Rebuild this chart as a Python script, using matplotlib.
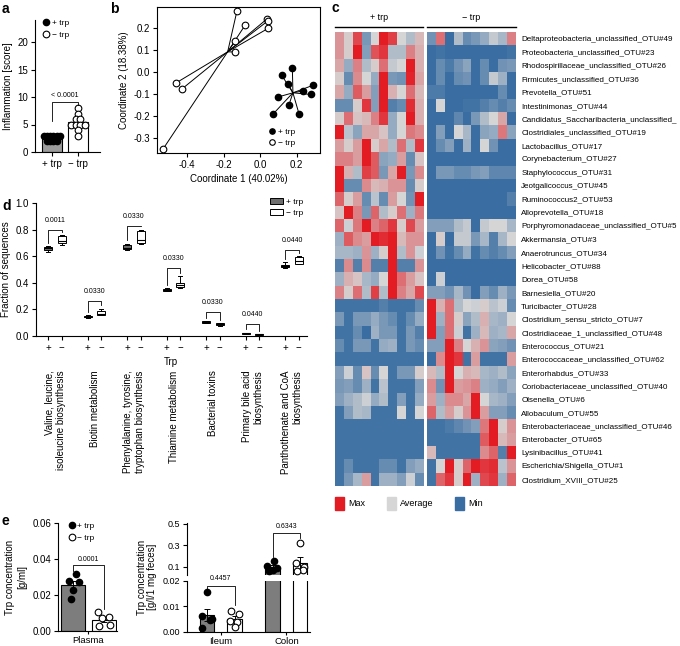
import numpy as np
import matplotlib
matplotlib.use('Agg')
import matplotlib.pyplot as plt
import matplotlib.transforms as mtransforms
from matplotlib.colors import LinearSegmentedColormap, TwoSlopeNorm
from matplotlib.patches import Rectangle, Patch
from matplotlib.lines import Line2D

plt.rcParams['font.family'] = ['Liberation Sans', 'DejaVu Sans']
plt.rcParams['font.size'] = 7
plt.rcParams['axes.linewidth'] = 0.8
plt.rcParams['xtick.major.width'] = 0.8
plt.rcParams['ytick.major.width'] = 0.8
plt.rcParams['xtick.major.size'] = 3
plt.rcParams['ytick.major.size'] = 3
plt.rcParams['xtick.major.pad'] = 2
plt.rcParams['ytick.major.pad'] = 2

# ---------------- data ----------------
# a: inflammation score
a_groups = ['+ trp', '\u2212 trp']
a_plus = [3, 3, 3, 3, 3, 3, 2, 2, 2, 2]
a_minus = [8, 7, 6, 6, 5, 5, 5, 5, 4, 3]

# b: PCoA coordinates
b_plus_x = [0.118, 0.176, 0.154, 0.290, 0.233, 0.276, 0.100, 0.158, 0.073, 0.213]
b_plus_y = [-0.014, 0.017, -0.055, -0.059, -0.085, -0.101, -0.112, -0.147, -0.188, -0.191]
b_minus_x = [-0.127, -0.082, 0.040, 0.045, 0.045, -0.136, -0.140, -0.460, -0.427, -0.532]
b_minus_y = [0.277, 0.214, 0.244, 0.235, 0.200, 0.141, 0.092, -0.049, -0.076, -0.351]

# c: heatmap (row-scaled abundance, -1 = min, 0 = average, 1 = max)
hm_rows = ['Deltaproteobacteria_unclassified_OTU#49', 'Proteobacteria_unclassified_OTU#23',
           'Rhodospirillaceae_unclassified_OTU#26', 'Firmicutes_unclassified_OTU#36',
           'Prevotella_OTU#51', 'Intestinimonas_OTU#44',
           'Candidatus_Saccharibacteria_unclassified_', 'Clostridiales_unclassified_OTU#19',
           'Lactobacillus_OTU#17', 'Corynebacterium_OTU#27', 'Staphylococcus_OTU#31',
           'Jeotgalicoccus_OTU#45', 'Ruminococcus2_OTU#53', 'Alloprevotella_OTU#18',
           'Porphyromonadaceae_unclassified_OTU#5', 'Akkermansia_OTU#3', 'Anaerotruncus_OTU#34',
           'Helicobacter_OTU#88', 'Dorea_OTU#58', 'Barnesiella_OTU#20', 'Turicibacter_OTU#28',
           'Clostridium_sensu_stricto_OTU#7', 'Clostridiaceae_1_unclassified_OTU#48',
           'Enterococcus_OTU#21', 'Enterococcaceae_unclassified_OTU#62', 'Enterorhabdus_OTU#33',
           'Coriobacteriaceae_unclassified_OTU#40', 'Olsenella_OTU#6', 'Allobaculum_OTU#55',
           'Enterobacteriaceae_unclassified_OTU#46', 'Enterobacter_OTU#65', 'Lysinibacillus_OTU#41',
           'Escherichia/Shigella_OTU#1', 'Clostridium_XVIII_OTU#25']

hm_plus = [
    [0.35, 0.05, 0.75, -0.5, 0.0, 1.0, 0.8, 0.0, -0.2, 0.15],
    [0.35, 0.05, 1.0, -0.45, 0.7, 0.85, -0.2, -0.2, 0.45, 0.2],
    [0.25, -0.35, 0.45, -0.2, 0.05, 0.55, -0.1, 0.0, 1.0, 0.2],
    [0.05, -0.6, 0.4, 0.0, -0.35, 1.0, -0.5, -0.55, 0.95, 0.25],
    [0.25, -0.35, 0.65, 0.3, -0.45, 1.0, 0.2, 0.0, 0.55, 0.15],
    [-0.6, -0.6, 0.05, 0.85, -0.45, 1.0, -0.7, -0.6, 0.9, 0.2],
    [0.05, 0.55, 0.1, 0.15, 0.45, 0.85, -0.35, 0.0, 1.0, 0.2],
    [1.0, -0.15, -0.4, 0.25, 0.25, 0.1, -0.35, 0.0, 0.5, 0.4],
    [0.3, 0.05, 0.3, 1.0, 0.05, 0.25, -0.2, 0.55, -0.2, 0.85],
    [0.45, 0.45, 0.3, 1.0, 0.65, -0.4, -0.35, 0.3, -0.6, 0.1],
    [1.0, 0.2, -0.2, 0.8, 0.65, -0.5, 0.25, 1.0, -0.5, 0.4],
    [1.0, -0.6, -0.6, 0.4, 0.15, 0.2, 0.35, 0.35, -0.6, 0.05],
    [0.6, 0.05, 0.3, -0.6, -0.15, -0.6, 0.3, 0.0, -0.55, 1.0],
    [0.1, 1.0, 0.45, -0.5, 0.6, -0.2, 0.05, 0.55, -0.3, 0.5],
    [0.6, -0.05, 0.5, 1.0, 0.45, 0.6, 0.85, 0.05, 0.75, 0.3],
    [-0.3, 0.65, 0.4, 0.3, 1.0, 0.9, 1.0, 0.15, 0.35, 0.35],
    [-0.25, -0.25, -0.3, 0.35, -0.3, 0.05, 1.0, -0.2, 0.35, -0.05],
    [-0.7, 0.4, -0.7, 0.4, -0.7, -0.7, 1.0, -0.7, -0.7, 0.35],
    [-0.3, 0.2, 0.1, -0.25, -0.35, 0.0, 1.0, 0.55, 0.3, 0.1],
    [0.45, 0.05, 0.55, -0.2, 0.8, -0.2, 1.0, 0.45, 0.25, 0.75],
    [-0.8, -0.8, -0.8, -0.8, -0.8, -0.7, -0.8, -0.8, -0.8, -0.6],
    [-0.5, -0.8, -0.5, -0.5, -0.35, -0.5, -0.6, -0.8, -0.6, -0.35],
    [-0.8, -0.8, -0.6, -0.85, -0.3, -0.5, -0.5, -0.8, -0.5, -0.7],
    [-0.6, -0.8, -0.5, -0.5, -0.8, -0.35, -0.3, -0.8, -0.5, -0.6],
    [-0.8, -0.8, -0.8, -0.8, -0.8, -0.8, -0.8, -0.8, -0.8, -0.8],
    [-0.45, -0.05, -0.6, 0.1, -0.6, 0.0, -0.8, -0.5, -0.5, 0.05],
    [-0.5, -0.45, -0.6, -0.3, -0.8, -0.15, -0.8, -0.8, -0.8, -0.45],
    [-0.45, -0.3, -0.2, -0.05, -0.35, -0.2, -0.8, -0.45, -0.8, -0.35],
    [-0.8, -0.45, -0.2, -0.25, -0.8, -0.8, -0.8, 0.0, -0.8, 0.0],
    [-0.8, -0.8, -0.8, -0.8, -0.8, -0.8, -0.8, -0.8, -0.8, -0.8],
    [-0.8, -0.8, -0.8, -0.8, -0.8, -0.8, -0.8, -0.8, -0.8, -0.8],
    [-0.8, -0.8, -0.8, -0.8, -0.8, -0.8, -0.8, -0.8, -0.8, -0.8],
    [-0.8, -0.6, -0.8, -0.8, -0.8, -0.6, -0.6, -0.8, -0.45, -0.35],
    [-0.8, -0.5, -0.25, 0.3, -0.8, -0.3, -0.3, -0.45, -0.05, -0.6],
]
hm_minus = [
    [-0.55, 0.55, -0.9, -0.2, -0.6, -0.5, -0.35, -0.1, -0.25, 0.45],
    [-0.85, -0.8, -0.9, -0.9, -0.85, -0.85, -0.85, -0.85, -0.85, -0.8],
    [-0.85, -0.6, -0.75, -0.55, -0.4, -0.9, -0.6, -0.85, -0.55, -0.5],
    [-0.85, -0.6, -0.85, -0.6, -0.55, -0.85, -0.6, -0.1, -0.3, -0.85],
    [-0.75, -0.75, -0.85, -0.85, -0.85, -0.85, -0.85, -0.85, -0.6, -0.85],
    [-0.85, 0.0, -0.85, -0.85, -0.8, -0.8, -0.7, -0.6, -0.7, -0.6],
    [-0.9, -0.9, -0.9, -0.65, -0.9, -0.5, -0.2, 0.0, 0.25, -0.85],
    [-0.85, -0.45, -0.85, 0.0, -0.25, -0.85, -0.4, -0.35, 0.5, -0.4],
    [-0.85, -0.6, -0.45, -0.85, -0.3, -0.85, 0.0, -0.55, -0.85, -0.85],
    [-0.85, -0.85, -0.85, -0.85, -0.85, -0.85, -0.85, -0.85, -0.85, -0.85],
    [-0.85, -0.5, -0.5, -0.6, -0.6, -0.5, -0.45, -0.65, -0.65, -0.65],
    [-0.85, -0.85, -0.85, -0.85, -0.85, -0.85, -0.85, -0.85, -0.85, -0.85],
    [-0.85, -0.85, -0.85, -0.85, -0.85, -0.85, -0.85, -0.85, -0.85, -0.7],
    [-0.85, -0.85, -0.85, -0.85, -0.85, -0.85, -0.85, -0.85, -0.85, -0.85],
    [-0.45, -0.45, -0.45, -0.2, -0.1, -0.85, -0.1, 0.0, 0.0, -0.25],
    [-0.85, 0.05, -0.85, -0.1, -0.1, -0.5, -0.25, -0.7, -0.25, 0.0],
    [-0.85, -0.55, -0.8, -0.6, -0.35, -0.8, -0.6, -0.7, -0.6, -0.45],
    [-0.85, -0.85, -0.85, -0.85, -0.85, -0.85, -0.85, -0.85, -0.85, -0.85],
    [-0.85, -0.05, -0.85, -0.85, -0.85, -0.85, -0.85, -0.85, -0.85, -0.85],
    [-0.45, -0.45, -0.55, -0.25, -0.55, -0.85, -0.45, -0.6, -0.3, -0.5],
    [1.0, 0.2, 0.55, -0.2, 0.0, -0.05, 0.05, -0.15, -0.05, -0.6],
    [1.0, -0.3, 0.55, 0.05, -0.4, -0.2, 0.2, -0.25, -0.3, 0.0],
    [1.0, -0.45, 0.55, -0.05, -0.8, -0.3, 0.15, -0.3, -0.25, 0.25],
    [-0.45, -0.45, 1.0, 0.45, 0.0, 0.2, 0.35, -0.4, -0.45, -0.55],
    [-0.85, 0.4, 1.0, 0.85, -0.8, 0.3, -0.8, -0.8, -0.8, 0.3],
    [0.15, -0.2, 1.0, 0.0, 0.2, 0.15, -0.25, -0.3, -0.2, -0.4],
    [0.4, -0.55, 1.0, 0.3, 0.35, 0.45, -0.3, -0.35, -0.45, -0.3],
    [0.3, -0.3, 0.4, 0.4, 0.25, 1.0, 0.0, -0.25, -0.3, -0.45],
    [0.6, -0.2, 0.3, 0.05, 0.35, 1.0, 0.3, -0.45, -0.45, -0.6],
    [-0.8, -0.8, -0.75, -0.65, -0.55, -0.45, 0.5, 1.0, 0.05, 0.35],
    [-0.8, -0.8, -0.8, -0.8, -0.8, -0.8, 0.65, 1.0, 0.15, 0.3],
    [0.15, -0.8, -0.8, -0.8, -0.8, -0.8, 0.4, 0.6, -0.7, 1.0],
    [-0.8, 0.0, 1.0, 0.05, 0.6, 1.0, 0.85, 0.9, -0.15, 0.35],
    [-0.8, 0.6, 0.85, 0.05, 1.0, -0.3, 0.75, 0.85, -0.3, 0.6],
]

# d: predicted pathways, box statistics
d_cats = ['Valine, leucine,\nisoleucine biosynthesis', 'Biotin metabolism',
          'Phenylalanine, tyrosine,\ntryptophan biosynthesis', 'Thiamine metabolism',
          'Bacterial toxins', 'Primary bile acid\nbiosynthesis',
          'Panthothenate and CoA\nbiosynthesis']
d_plus_med = [0.660, 0.145, 0.665, 0.345, 0.105, 0.020, 0.527]
d_plus_q1 = [0.650, 0.140, 0.655, 0.340, 0.100, 0.018, 0.520]
d_plus_q3 = [0.670, 0.150, 0.685, 0.355, 0.110, 0.022, 0.535]
d_plus_lo = [0.635, 0.135, 0.645, 0.335, 0.098, 0.016, 0.515]
d_plus_hi = [0.675, 0.155, 0.695, 0.360, 0.112, 0.024, 0.555]
d_minus_med = [0.715, 0.165, 0.720, 0.380, 0.088, 0.012, 0.565]
d_minus_q1 = [0.700, 0.160, 0.700, 0.365, 0.080, 0.010, 0.545]
d_minus_q3 = [0.755, 0.190, 0.790, 0.395, 0.095, 0.015, 0.595]
d_minus_lo = [0.685, 0.155, 0.690, 0.360, 0.075, 0.008, 0.540]
d_minus_hi = [0.760, 0.205, 0.800, 0.450, 0.097, 0.016, 0.600]
d_pvals = ['0.0011', '0.0330', '0.0330', '0.0330', '0.0330', '0.0440', '0.0440']
d_bracket = [0.80, 0.26, 0.83, 0.51, 0.183, 0.09, 0.647]

# e: Trp concentrations
e_plasma_plus = [0.032, 0.028, 0.0275, 0.023, 0.018]
e_plasma_minus = [0.0105, 0.008, 0.0075, 0.0035, 0.003]
e_plasma_err = [0.0022, 0.0013]
e_cats = ['Ileum', 'Colon']
e_ileum_plus = [0.0155, 0.006, 0.005, 0.0045, 0.0013]
e_ileum_minus = [0.0082, 0.007, 0.0043, 0.0037, 0.0017]
e_colon_plus = [0.15, 0.11, 0.09, 0.07, 0.06]
e_colon_minus = [0.32, 0.13, 0.10, 0.07, 0.06]
e_gut_err_plus = [0.0023, 0.015]
e_gut_err_minus = [0.0013, 0.055]

# ---------------- figure ----------------
W, H = 680, 646
fig = plt.figure(figsize=(W / 100, H / 100), dpi=100)


def add_ax(x0, y0, x1, y1):
    # axes from pixel box (top-left origin)
    return fig.add_axes([x0 / W, 1 - y1 / H, (x1 - x0) / W, (y1 - y0) / H])


def swarm(vals, step):
    counts = {v: vals.count(v) for v in set(vals)}
    seen = {}
    offs = []
    for v in vals:
        k = seen.get(v, 0)
        seen[v] = k + 1
        offs.append((k - (counts[v] - 1) / 2) * step)
    return np.array(offs)


def clean(ax):
    ax.spines['top'].set_visible(False)
    ax.spines['right'].set_visible(False)


def letter(x, y, s):
    fig.text(x / W, 1 - y / H, s, fontsize=10, fontweight='bold', va='top', ha='left')


filled = dict(marker='o', ls='none', mfc='black', mec='black', ms=4.5)
opened = dict(marker='o', ls='none', mfc='white', mec='black', mew=0.8, ms=4.8)
err_kw = dict(lw=0.7, capsize=2.5, capthick=0.7)

# ---- a ----
ax = add_ax(35, 20, 100, 152)
clean(ax)
ax.bar([0, 1], [np.mean(a_plus), np.mean(a_minus)], width=0.8,
       color=['#9b9b9b', 'white'], edgecolor='black', lw=0.8)
ax.plot(0 + swarm(a_plus, 0.12), a_plus, **filled)
ax.plot(1 + swarm(a_minus, 0.17), a_minus, **opened)
ax.plot([0, 0, 1, 1], [5.6, 9.1, 9.1, 8.6], color='black', lw=0.6)
ax.text(0.5, 9.7, '< 0.0001', ha='center', va='bottom', fontsize=5)
ax.set_xlim(-0.65, 1.85)
ax.set_ylim(0, 24)
ax.set_yticks([0, 5, 10, 15, 20])
ax.set_xticks([0, 1])
ax.set_xticklabels(a_groups)
ax.set_ylabel('Inflammation [score]', labelpad=3)
ax.legend([Line2D([], [], **filled), Line2D([], [], **opened)], ['+ trp', '\u2212 trp'],
          loc='upper left', bbox_to_anchor=(0.05, 1.03), frameon=False, fontsize=6,
          handletextpad=0.2, labelspacing=0.5, handlelength=1.0, borderaxespad=0)
letter(2, 2, 'a')

# ---- b ----
ax = add_ax(156.7, 7.3, 320, 153)
for xs, ys, st in [(b_plus_x, b_plus_y, filled), (b_minus_x, b_minus_y, opened)]:
    cx, cy = np.mean(xs), np.mean(ys)
    for x, y in zip(xs, ys):
        ax.plot([cx, x], [cy, y], color='black', lw=0.7, zorder=1)
    ax.plot(xs, ys, zorder=3, **st)
ax.set_xlim(-0.565, 0.327)
ax.set_ylim(-0.367, 0.295)
ax.set_xticks([-0.4, -0.2, 0.0, 0.2])
ax.set_yticks([-0.3, -0.2, -0.1, 0.0, 0.1, 0.2])
ax.xaxis.set_major_formatter(matplotlib.ticker.FormatStrFormatter('%.1f'))
ax.yaxis.set_major_formatter(matplotlib.ticker.FormatStrFormatter('%.1f'))
ax.set_xlabel('Coordinate 1 (40.02%)', labelpad=3)
ax.set_ylabel('Coordinate 2 (18.38%)', labelpad=3)
ax.legend([Line2D([], [], **dict(filled, ms=3.8)), Line2D([], [], **dict(opened, ms=4))],
          ['+ trp', '\u2212 trp'], loc='lower left', bbox_to_anchor=(0.66, 0.02),
          frameon=False, fontsize=6, handletextpad=0.2, labelspacing=0.4,
          handlelength=1.0, borderaxespad=0)
letter(110, 2, 'b')

# ---- c ----
cmap = LinearSegmentedColormap.from_list('hm', ['#3a6ea3', '#d6d6d6', '#e31b23'])
norm = TwoSlopeNorm(vmin=-0.85, vcenter=0.0, vmax=1.0)
hm_boxes = [(335, 423.3, hm_plus, '+ trp'), (427.3, 515.7, hm_minus, '\u2212 trp')]
for i, (x0, x1, vals, title) in enumerate(hm_boxes):
    ax = add_ax(x0, 32, x1, 486)
    ax.imshow(np.array(vals), cmap=cmap, norm=norm, aspect='auto', interpolation='nearest')
    for s in ax.spines.values():
        s.set_visible(False)
    ax.set_xticks([])
    if i == 0:
        ax.set_yticks([])
    else:
        ax.yaxis.tick_right()
        ax.set_yticks(range(len(hm_rows)))
        ax.set_yticklabels(hm_rows, fontsize=5.8)
        ax.tick_params(axis='y', length=0, pad=4)
    fig.add_artist(Line2D([x0 / W, x1 / W], [1 - 26.7 / H] * 2, color='black', lw=1.0))
    fig.text((x0 + x1) / 2 / W, 1 - 17 / H, title, ha='center', va='center', fontsize=6.5)
leg_items = [(335, '#e31b23', 'Max'), (387.3, '#d6d6d6', 'Average'), (455, '#3a6ea3', 'Min')]
for x, col, lab in leg_items:
    fig.add_artist(Rectangle((x / W, 1 - 510 / H), 9 / W, 13.3 / H, color=col,
                             transform=fig.transFigure))
    fig.text((x + 13) / W, 1 - 503.5 / H, lab, ha='left', va='center', fontsize=6.5)
letter(332, 1, 'c')

# ---- d ----
ax = add_ax(35.7, 203, 307, 336)
clean(ax)
pos_plus = np.arange(len(d_cats)) - 0.17
pos_minus = np.arange(len(d_cats)) + 0.17
for pos, med, q1, q3, lo, hi, fc in [
        (pos_plus, d_plus_med, d_plus_q1, d_plus_q3, d_plus_lo, d_plus_hi, '#6e6e6e'),
        (pos_minus, d_minus_med, d_minus_q1, d_minus_q3, d_minus_lo, d_minus_hi, 'white')]:
    stats = [dict(med=m, q1=a, q3=b, whislo=l, whishi=h, fliers=[])
             for m, a, b, l, h in zip(med, q1, q3, lo, hi)]
    ax.bxp(stats, positions=pos, widths=0.21, patch_artist=True, showfliers=False,
           manage_ticks=False,
           boxprops=dict(facecolor=fc, edgecolor='black', lw=0.7),
           medianprops=dict(color='black', lw=0.8),
           whiskerprops=dict(color='black', lw=0.7),
           capprops=dict(color='black', lw=0.7))
for i, (p, yb) in enumerate(zip(d_pvals, d_bracket)):
    ax.plot([pos_plus[i], pos_plus[i], pos_minus[i], pos_minus[i]],
            [d_plus_hi[i] + 0.025, yb, yb, d_minus_hi[i] + 0.025], color='black', lw=0.6)
    ax.text(i, yb + 0.045, p, ha='center', va='bottom', fontsize=5)
ax.set_xlim(-0.49, 6.38)
ax.set_ylim(0, 1.0)
ax.set_yticks([0, 0.2, 0.4, 0.6, 0.8, 1.0])
ax.yaxis.set_major_formatter(matplotlib.ticker.FormatStrFormatter('%.1f'))
ax.set_xticks(np.concatenate([pos_plus, pos_minus]))
ax.set_xticklabels(['+'] * len(d_cats) + ['\u2212'] * len(d_cats))
ax.set_xlabel('Trp', labelpad=3)
ax.set_ylabel('Fraction of sequences', labelpad=3)
trans = mtransforms.blended_transform_factory(ax.transData, ax.transAxes)
for i, c in enumerate(d_cats):
    ax.text(i, -0.26, c, transform=trans, rotation=90, ha='center', va='top',
            multialignment='right', fontsize=7)
ax.legend([Patch(facecolor='#6e6e6e', edgecolor='black', lw=0.7),
           Patch(facecolor='white', edgecolor='black', lw=0.7)], ['+ trp', '\u2212 trp'],
          loc='upper right', bbox_to_anchor=(1.0, 1.06), frameon=False, fontsize=6,
          handlelength=1.6, handleheight=0.6, handletextpad=0.4, labelspacing=0.4,
          borderaxespad=0)
letter(2, 199, 'd')

# ---- e (plasma) ----
ax = add_ax(58.3, 523, 116.7, 631.3)
clean(ax)
ax.bar([0, 1], [np.mean(e_plasma_plus), np.mean(e_plasma_minus)], width=0.75,
       yerr=e_plasma_err, color=['#7d7d7d', 'white'], edgecolor='black', lw=0.8,
       error_kw=err_kw)
ax.plot(0 + np.array([0.1, -0.12, 0.2, 0.0, -0.05]), e_plasma_plus, **filled)
ax.plot(1 + np.array([-0.2, 0.15, -0.05, 0.2, -0.15]), e_plasma_minus, **opened)
ax.plot([0, 0, 1, 1], [0.0335, 0.0367, 0.0367, 0.0125], color='black', lw=0.6)
ax.text(0.5, 0.038, '0.0001', ha='center', va='bottom', fontsize=5)
ax.set_xlim(-0.474, 1.41)
ax.set_ylim(0, 0.06)
ax.set_yticks([0, 0.02, 0.04, 0.06])
ax.yaxis.set_major_formatter(matplotlib.ticker.FormatStrFormatter('%.2f'))
ax.set_xticks([0.5])
ax.set_xticklabels(['Plasma'], fontsize=6.8)
ax.tick_params(axis='x', length=2.5, pad=1)
ax.set_ylabel('Trp concentration\n[g/ml]', labelpad=4)
ax.legend([Line2D([], [], **filled), Line2D([], [], **opened)], ['+ trp', '\u2212 trp'],
          loc='upper left', bbox_to_anchor=(0.1, 1.04), frameon=False, fontsize=6,
          handletextpad=0.2, labelspacing=0.5, handlelength=1.0, borderaxespad=0)
letter(2, 514, 'e')

# ---- e (ileum / colon, broken axis) ----
ax_up = add_ax(186.7, 522.7, 310, 575.2)
ax_lo = add_ax(186.7, 581, 310, 631.7)
xc = np.arange(len(e_cats))
gut_plus = [np.mean(e_ileum_plus), np.mean(e_colon_plus)]
gut_minus = [np.mean(e_ileum_minus), np.mean(e_colon_minus)]
for ax, idx in [(ax_lo, [0, 1]), (ax_up, [1])]:
    clean(ax)
    ax.bar(xc[idx] - 0.21, [gut_plus[k] for k in idx], width=0.22,
           yerr=[e_gut_err_plus[k] for k in idx], color='#7d7d7d',
           edgecolor='black', lw=0.8, error_kw=err_kw)
    ax.bar(xc[idx] + 0.21, [gut_minus[k] for k in idx], width=0.22,
           yerr=[e_gut_err_minus[k] for k in idx], color='white',
           edgecolor='black', lw=0.8, error_kw=err_kw)
    ax.set_xlim(-0.52, 1.36)
    ax.tick_params(axis='y', labelsize=6.5)
ax_lo.plot(-0.21 + np.array([0.0, -0.08, 0.07, 0.05, -0.07]), e_ileum_plus, **filled)
ax_lo.plot(0.21 + np.array([-0.05, 0.07, -0.07, 0.04, 0.0]), e_ileum_minus, **opened)
ax_up.plot(0.79 + np.array([0.02, -0.08, 0.07, 0.0, -0.05]), e_colon_plus, **filled)
ax_up.plot(1.21 + np.array([0.0, -0.07, 0.06, 0.05, -0.05]), e_colon_minus, **opened)
ax_up.set_ylim(0.02, 0.512)
ax_up.set_yticks([0.1, 0.3, 0.5])
ax_up.yaxis.set_major_formatter(matplotlib.ticker.FormatStrFormatter('%.1f'))
ax_up.spines['bottom'].set_visible(False)
ax_up.set_xticks([])
ax_up.plot([0.79, 0.79, 1.21, 1.21], [0.19, 0.413, 0.413, 0.37], color='black', lw=0.6)
ax_up.text(1.0, 0.44, '0.6343', ha='center', va='bottom', fontsize=5)
ax_lo.set_ylim(0, 0.02)
ax_lo.set_yticks([0, 0.01, 0.02])
ax_lo.yaxis.set_major_formatter(matplotlib.ticker.FormatStrFormatter('%.2f'))
ax_lo.set_xticks(xc)
ax_lo.set_xticklabels(e_cats, fontsize=6.8)
ax_lo.tick_params(axis='x', length=2.5, pad=1)
ax_lo.plot([-0.21, -0.21, 0.21, 0.21], [0.0165, 0.018, 0.018, 0.0105], color='black',
           lw=0.6, clip_on=False)
ax_lo.text(0.0, 0.0195, '0.4457', ha='center', va='bottom', fontsize=5, clip_on=False)
fig.text(147 / W, 1 - 577 / H, 'Trp concentration\n[g/l/1 mg feces]', rotation=90,
         ha='center', va='center', fontsize=7, linespacing=1.1)

fig.savefig('out.png', dpi=100)
